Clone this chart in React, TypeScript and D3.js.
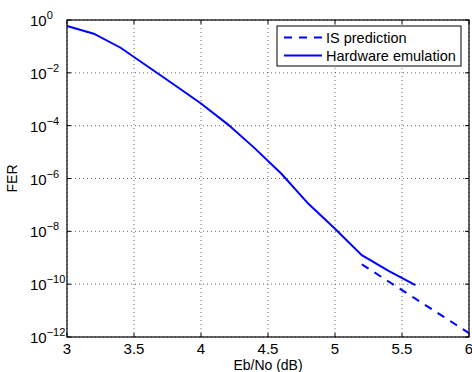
import React from 'react';
import * as d3 from 'd3';

const snrHw = [3.0, 3.2, 3.4, 3.6, 3.8, 4.0, 4.2, 4.4, 4.6, 4.8, 5.0, 5.2, 5.4, 5.6];
const ferHwExp = [-0.23, -0.52, -1.05, -1.75, -2.45, -3.16, -3.95, -4.85, -5.82, -6.95, -7.9, -8.9, -9.5, -10.04];
const snrIs = [5.2, 5.4, 5.6, 5.8, 6.0];
const ferIsExp = [-9.25, -9.9, -10.55, -11.2, -11.85];
const xTicks = [3, 3.5, 4, 4.5, 5, 5.5, 6];
const yTickExps = [0, -2, -4, -6, -8, -10, -12];

const W = 472;
const H = 372;
const m = { left: 67, right: 469, top: 20, bottom: 337 };
const font = 'Liberation Sans, Arial, Helvetica, sans-serif';
const blue = '#0000ff';

export default function App() {
  const x = d3.scaleLinear().domain([3, 6]).range([m.left, m.right]);
  const y = d3.scaleLog().domain([1e-12, 1]).range([m.bottom, m.top]);

  const line = d3
    .line<[number, number]>()
    .x(d => x(d[0]))
    .y(d => y(d[1]));

  const hw = snrHw.map((s, i) => [s, Math.pow(10, ferHwExp[i])] as [number, number]);
  const is = snrIs.map((s, i) => [s, Math.pow(10, ferIsExp[i])] as [number, number]);

  const lx = 277, ly = 26, lw = 184, lh = 40;

  return (
    <svg width={W} height={H} style={{ position: 'absolute', left: 0, top: 0, background: '#fff' }}>
      <rect x={0} y={0} width={W} height={H} fill="#fff" />
      {/* grid */}
      {xTicks.map(t => (
        <line key={'gx' + t} x1={x(t)} x2={x(t)} y1={m.top} y2={m.bottom}
          stroke="#444" strokeWidth={0.8} strokeDasharray="1,3" />
      ))}
      {yTickExps.map(e => (
        <line key={'gy' + e} x1={m.left} x2={m.right} y1={y(Math.pow(10, e))} y2={y(Math.pow(10, e))}
          stroke="#444" strokeWidth={0.8} strokeDasharray="1,3" />
      ))}
      {/* tick marks on all sides */}
      {xTicks.map(t => (
        <g key={'tx' + t}>
          <line x1={x(t)} x2={x(t)} y1={m.bottom} y2={m.bottom - 4} stroke="#000" />
          <line x1={x(t)} x2={x(t)} y1={m.top} y2={m.top + 4} stroke="#000" />
        </g>
      ))}
      {yTickExps.map(e => (
        <g key={'ty' + e}>
          <line x1={m.left} x2={m.left + 4} y1={y(Math.pow(10, e))} y2={y(Math.pow(10, e))} stroke="#000" />
          <line x1={m.right} x2={m.right - 4} y1={y(Math.pow(10, e))} y2={y(Math.pow(10, e))} stroke="#000" />
        </g>
      ))}
      {/* curves */}
      <path d={line(is) || ''} fill="none" stroke={blue} strokeWidth={2} strokeDasharray="8,7" />
      <path d={line(hw) || ''} fill="none" stroke={blue} strokeWidth={2} />
      {/* box */}
      <rect x={m.left} y={m.top} width={m.right - m.left} height={m.bottom - m.top}
        fill="none" stroke="#000" strokeWidth={1.2} />
      {/* x tick labels */}
      {xTicks.map(t => (
        <text key={'lx' + t} x={x(t)} y={354} textAnchor="middle" fontFamily={font} fontSize={15}>
          {String(t)}
        </text>
      ))}
      {/* y tick labels */}
      {yTickExps.map(e => (
        <text key={'ly' + e} x={30} y={y(Math.pow(10, e)) + 6} fontFamily={font} fontSize={15}>
          10
          <tspan dy={-7} fontSize={11}>{e === 0 ? '0' : '\u2212' + Math.abs(e)}</tspan>
        </text>
      ))}
      {/* axis labels */}
      <text x={(m.left + m.right) / 2} y={369.5} textAnchor="middle" fontFamily={font} fontSize={14}>
        Eb/No (dB)
      </text>
      <text transform={`translate(17,${(m.top + m.bottom) / 2}) rotate(-90)`} textAnchor="middle"
        fontFamily={font} fontSize={14}>
        FER
      </text>
      {/* legend */}
      <rect x={lx} y={ly} width={lw} height={lh} fill="#fff" stroke="#000" strokeWidth={1} />
      <line x1={284} x2={322} y1={37.5} y2={37.5} stroke={blue} strokeWidth={2} strokeDasharray="8,7" />
      <line x1={284} x2={322} y1={55.5} y2={55.5} stroke={blue} strokeWidth={2} />
      <text x={326} y={42.5} fontFamily={font} fontSize={14.5}>IS prediction</text>
      <text x={326} y={60.5} fontFamily={font} fontSize={14.5}>Hardware emulation</text>
    </svg>
  );
}
